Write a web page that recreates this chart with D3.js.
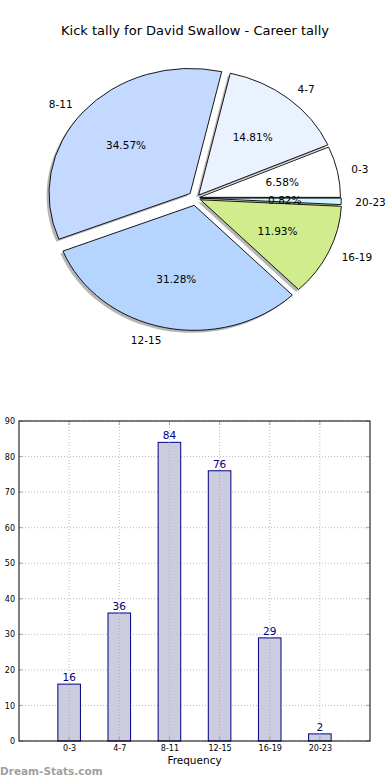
<!DOCTYPE html>
<html><head><meta charset="utf-8">
<script src="https://cdn.jsdelivr.net/npm/d3@7/dist/d3.min.js"></script>
<style>body{margin:0;background:#fff}svg{display:block}text{font-family:"DejaVu Sans",sans-serif}</style>
</head><body>
<script>
const title = "Kick tally for David Swallow - Career tally";
const categories = ["0-3","4-7","8-11","12-15","16-19","20-23"];
const counts = [16,36,84,76,29,2];
const pieColors = ["#ffffff","#ebf2ff","#c4d9ff","#b5d5ff","#d0ec8c","#d0f5ff"];
const explode = [0.025,0.03,0.055,0.06,0.035,0.03];
const yTicks = [0,10,20,30,40,50,60,70,80,90];
const xLabel = "Frequency";
const watermark = "Dream-Stats.com";

const W=390,H=780;
const svg=d3.select("body").append("svg").attr("width",W).attr("height",H);

svg.append("text").attr("x",195).attr("y",35).attr("text-anchor","middle")
  .attr("font-size",13).text(title);

// ---- Pie ----
const cx=196, cy=198, rx=141, ry=125;
const total=d3.sum(counts);
let acc=0;
const slices=counts.map((v,i)=>{
  const t0=acc/total*2*Math.PI; acc+=v; const t1=acc/total*2*Math.PI;
  const m=(t0+t1)/2;
  const ox=cx+explode[i]*rx*Math.cos(m), oy=cy-explode[i]*ry*Math.sin(m);
  return {i,v,t0,t1,m,ox,oy};
});
const arc=d3.arc().innerRadius(0).outerRadius(1)
  .startAngle(d=>Math.PI/2-d.t1).endAngle(d=>Math.PI/2-d.t0);
const pg=svg.append("g");
pg.selectAll("path.sh").data(slices).join("path").attr("class","sh")
  .attr("d",arc)
  .attr("transform",d=>`translate(${d.ox-2.5},${d.oy+2.5}) scale(${rx},${ry})`)
  .attr("fill","#7a7a7a").attr("opacity",0.55);
pg.selectAll("path.sl").data(slices).join("path").attr("class","sl")
  .attr("d",arc)
  .attr("transform",d=>`translate(${d.ox},${d.oy}) scale(${rx},${ry})`)
  .attr("fill",d=>pieColors[d.i]).attr("stroke","#000").attr("stroke-width",0.9)
  .attr("vector-effect","non-scaling-stroke").attr("stroke-linejoin","round");
pg.selectAll("text.pct").data(slices).join("text").attr("class","pct")
  .attr("x",d=>d.ox+0.6*rx*Math.cos(d.m)).attr("y",d=>d.oy-0.6*ry*Math.sin(d.m))
  .attr("text-anchor","middle").attr("dominant-baseline","central")
  .attr("font-size",10.5).text(d=>(d.v/total*100).toFixed(2)+"%");
pg.selectAll("text.cat").data(slices).join("text").attr("class","cat")
  .attr("x",d=>d.ox+1.1*rx*Math.cos(d.m)).attr("y",d=>d.oy-1.1*ry*Math.sin(d.m))
  .attr("text-anchor",d=>Math.cos(d.m)>=0?"start":"end").attr("dominant-baseline","central")
  .attr("font-size",10.5).text(d=>categories[d.i]);

// ---- Bar chart ----
const L=19,R=370,T=421,B=741;
const x=d3.scaleLinear().domain([-1,categories.length]).range([L,R]);
const y=d3.scaleLinear().domain([0,90]).range([B,T]);
const bw=x(0.45)-x(0);
const bg=svg.append("g");
bg.selectAll("line.gy").data(yTicks).join("line")
  .attr("x1",L).attr("x2",R).attr("y1",d=>y(d)).attr("y2",d=>y(d))
  .attr("stroke","#aaa").attr("stroke-width",0.8).attr("stroke-dasharray","1,2");
bg.selectAll("rect.bar").data(counts).join("rect")
  .attr("x",(d,i)=>x(i)-bw/2).attr("width",bw)
  .attr("y",d=>y(d)).attr("height",d=>B-y(d))
  .attr("fill","#ccccdf").attr("stroke","#000080").attr("stroke-width",1);
bg.selectAll("line.gx").data(categories).join("line")
  .attr("x1",(d,i)=>x(i)).attr("x2",(d,i)=>x(i)).attr("y1",T).attr("y2",B)
  .attr("stroke","#aaa").attr("stroke-width",0.8).attr("stroke-dasharray","1,2");
bg.selectAll("text.val").data(counts).join("text")
  .attr("x",(d,i)=>x(i)).attr("y",d=>y(d)-3).attr("text-anchor","middle")
  .attr("font-size",10.5).attr("fill","#000080").text(d=>d);
const ya=d3.axisLeft(y).tickValues(yTicks).tickSize(0).tickPadding(4);
bg.append("g").attr("transform",`translate(${L},0)`).call(ya)
  .call(g=>g.select(".domain").remove())
  .call(g=>g.selectAll("text").attr("font-size",8).attr("font-family","DejaVu Sans").attr("fill","#000"));
const xa=d3.axisBottom(x).tickValues(d3.range(categories.length)).tickFormat(i=>categories[i]).tickSize(0).tickPadding(4);
bg.append("g").attr("transform",`translate(0,${B})`).call(xa)
  .call(g=>g.select(".domain").remove())
  .call(g=>g.selectAll("text").attr("font-size",8).attr("font-family","DejaVu Sans").attr("fill","#000"));
const tk=bg.append("g").attr("stroke","#999").attr("stroke-width",0.8);
yTicks.forEach(v=>{
  tk.append("line").attr("x1",L).attr("x2",L+4).attr("y1",y(v)).attr("y2",y(v));
  tk.append("line").attr("x1",R).attr("x2",R-4).attr("y1",y(v)).attr("y2",y(v));
});
categories.forEach((c,i)=>{
  tk.append("line").attr("x1",x(i)).attr("x2",x(i)).attr("y1",B).attr("y2",B-4);
  tk.append("line").attr("x1",x(i)).attr("x2",x(i)).attr("y1",T).attr("y2",T+4);
});
bg.append("rect").attr("x",L).attr("y",T).attr("width",R-L).attr("height",B-T)
  .attr("fill","none").attr("stroke","#000").attr("stroke-width",1);
svg.append("text").attr("x",(L+R)/2).attr("y",764).attr("text-anchor","middle")
  .attr("font-size",10.5).text(xLabel);
svg.append("text").attr("x",0).attr("y",775).attr("font-size",10.5).attr("font-weight","bold")
  .attr("fill","#a0a0a0").text(watermark);
</script>
</body></html>
